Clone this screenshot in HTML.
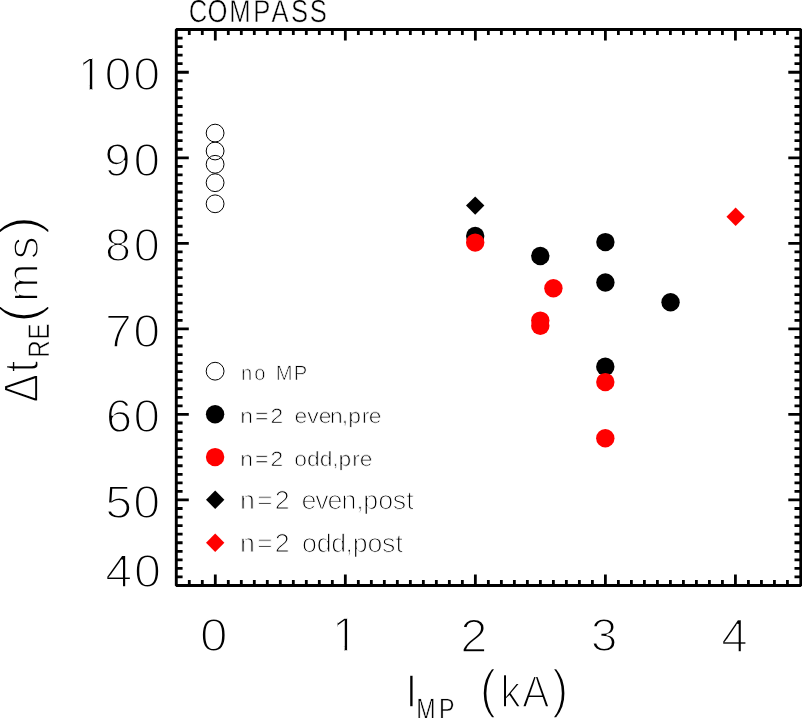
<!DOCTYPE html>
<html lang="en"><head><meta charset="utf-8"><title>COMPASS</title>
<style>
html,body{margin:0;padding:0;background:#fff;}
body{width:802px;height:718px;overflow:hidden;}
svg{display:block;}
text{font-family:"Liberation Sans",sans-serif;fill:#000;stroke:#fff;text-rendering:geometricPrecision;white-space:pre;}
.big{stroke-width:1.75px;}
.mid{stroke-width:0.55px;}
.sm{stroke-width:0.70px;}
.sm2{stroke-width:1.05px;}
</style></head><body>
<svg width="802" height="718" viewBox="0 0 802 718">
<rect x="0" y="0" width="802" height="718" fill="#fff"/>
<g id="axes">
<path d="M189.29 585.50v-5.60M189.29 29.50v5.60M202.30 585.50v-5.60M202.30 29.50v5.60M215.30 585.50v-11.10M215.30 29.50v11.10M228.30 585.50v-5.60M228.30 29.50v5.60M241.31 585.50v-5.60M241.31 29.50v5.60M254.31 585.50v-5.60M254.31 29.50v5.60M267.31 585.50v-5.60M267.31 29.50v5.60M280.31 585.50v-5.60M280.31 29.50v5.60M293.32 585.50v-5.60M293.32 29.50v5.60M306.32 585.50v-5.60M306.32 29.50v5.60M319.32 585.50v-5.60M319.32 29.50v5.60M332.33 585.50v-5.60M332.33 29.50v5.60M345.33 585.50v-11.10M345.33 29.50v11.10M358.33 585.50v-5.60M358.33 29.50v5.60M371.34 585.50v-5.60M371.34 29.50v5.60M384.34 585.50v-5.60M384.34 29.50v5.60M397.34 585.50v-5.60M397.34 29.50v5.60M410.35 585.50v-5.60M410.35 29.50v5.60M423.35 585.50v-5.60M423.35 29.50v5.60M436.35 585.50v-5.60M436.35 29.50v5.60M449.35 585.50v-5.60M449.35 29.50v5.60M462.36 585.50v-5.60M462.36 29.50v5.60M475.36 585.50v-11.10M475.36 29.50v11.10M488.36 585.50v-5.60M488.36 29.50v5.60M501.37 585.50v-5.60M501.37 29.50v5.60M514.37 585.50v-5.60M514.37 29.50v5.60M527.37 585.50v-5.60M527.37 29.50v5.60M540.38 585.50v-5.60M540.38 29.50v5.60M553.38 585.50v-5.60M553.38 29.50v5.60M566.38 585.50v-5.60M566.38 29.50v5.60M579.38 585.50v-5.60M579.38 29.50v5.60M592.39 585.50v-5.60M592.39 29.50v5.60M605.39 585.50v-11.10M605.39 29.50v11.10M618.39 585.50v-5.60M618.39 29.50v5.60M631.40 585.50v-5.60M631.40 29.50v5.60M644.40 585.50v-5.60M644.40 29.50v5.60M657.40 585.50v-5.60M657.40 29.50v5.60M670.40 585.50v-5.60M670.40 29.50v5.60M683.41 585.50v-5.60M683.41 29.50v5.60M696.41 585.50v-5.60M696.41 29.50v5.60M709.41 585.50v-5.60M709.41 29.50v5.60M722.42 585.50v-5.60M722.42 29.50v5.60M735.42 585.50v-11.10M735.42 29.50v11.10M748.42 585.50v-5.60M748.42 29.50v5.60M761.43 585.50v-5.60M761.43 29.50v5.60M774.43 585.50v-5.60M774.43 29.50v5.60M787.43 585.50v-5.60M787.43 29.50v5.60M176.29 576.95h6.30M800.80 576.95h-6.30M176.29 568.39h6.30M800.80 568.39h-6.30M176.29 559.84h6.30M800.80 559.84h-6.30M176.29 551.28h6.30M800.80 551.28h-6.30M176.29 542.73h6.30M800.80 542.73h-6.30M176.29 534.18h6.30M800.80 534.18h-6.30M176.29 525.62h6.30M800.80 525.62h-6.30M176.29 517.07h6.30M800.80 517.07h-6.30M176.29 508.52h6.30M800.80 508.52h-6.30M176.29 499.96h12.50M800.80 499.96h-12.50M176.29 491.41h6.30M800.80 491.41h-6.30M176.29 482.85h6.30M800.80 482.85h-6.30M176.29 474.30h6.30M800.80 474.30h-6.30M176.29 465.75h6.30M800.80 465.75h-6.30M176.29 457.19h6.30M800.80 457.19h-6.30M176.29 448.64h6.30M800.80 448.64h-6.30M176.29 440.08h6.30M800.80 440.08h-6.30M176.29 431.53h6.30M800.80 431.53h-6.30M176.29 422.98h6.30M800.80 422.98h-6.30M176.29 414.42h12.50M800.80 414.42h-12.50M176.29 405.87h6.30M800.80 405.87h-6.30M176.29 397.32h6.30M800.80 397.32h-6.30M176.29 388.76h6.30M800.80 388.76h-6.30M176.29 380.21h6.30M800.80 380.21h-6.30M176.29 371.65h6.30M800.80 371.65h-6.30M176.29 363.10h6.30M800.80 363.10h-6.30M176.29 354.55h6.30M800.80 354.55h-6.30M176.29 345.99h6.30M800.80 345.99h-6.30M176.29 337.44h6.30M800.80 337.44h-6.30M176.29 328.88h12.50M800.80 328.88h-12.50M176.29 320.33h6.30M800.80 320.33h-6.30M176.29 311.78h6.30M800.80 311.78h-6.30M176.29 303.22h6.30M800.80 303.22h-6.30M176.29 294.67h6.30M800.80 294.67h-6.30M176.29 286.12h6.30M800.80 286.12h-6.30M176.29 277.56h6.30M800.80 277.56h-6.30M176.29 269.01h6.30M800.80 269.01h-6.30M176.29 260.45h6.30M800.80 260.45h-6.30M176.29 251.90h6.30M800.80 251.90h-6.30M176.29 243.35h12.50M800.80 243.35h-12.50M176.29 234.79h6.30M800.80 234.79h-6.30M176.29 226.24h6.30M800.80 226.24h-6.30M176.29 217.68h6.30M800.80 217.68h-6.30M176.29 209.13h6.30M800.80 209.13h-6.30M176.29 200.58h6.30M800.80 200.58h-6.30M176.29 192.02h6.30M800.80 192.02h-6.30M176.29 183.47h6.30M800.80 183.47h-6.30M176.29 174.92h6.30M800.80 174.92h-6.30M176.29 166.36h6.30M800.80 166.36h-6.30M176.29 157.81h12.50M800.80 157.81h-12.50M176.29 149.25h6.30M800.80 149.25h-6.30M176.29 140.70h6.30M800.80 140.70h-6.30M176.29 132.15h6.30M800.80 132.15h-6.30M176.29 123.59h6.30M800.80 123.59h-6.30M176.29 115.04h6.30M800.80 115.04h-6.30M176.29 106.48h6.30M800.80 106.48h-6.30M176.29 97.93h6.30M800.80 97.93h-6.30M176.29 89.38h6.30M800.80 89.38h-6.30M176.29 80.82h6.30M800.80 80.82h-6.30M176.29 72.27h12.50M800.80 72.27h-12.50M176.29 63.72h6.30M800.80 63.72h-6.30M176.29 55.16h6.30M800.80 55.16h-6.30M176.29 46.61h6.30M800.80 46.61h-6.30M176.29 38.05h6.30M800.80 38.05h-6.30" stroke="#000" stroke-width="2.8" fill="none"/>
<rect x="176.29" y="29.50" width="624.51" height="556.00" fill="none" stroke="#000" stroke-width="2.9" stroke-linejoin="bevel"/>
</g>
<g id="data">
<circle cx="215.10" cy="133.10" r="8.9" fill="none" stroke="#000" stroke-width="1"/>
<circle cx="215.10" cy="151.00" r="8.9" fill="none" stroke="#000" stroke-width="1"/>
<circle cx="215.10" cy="164.30" r="8.9" fill="none" stroke="#000" stroke-width="1"/>
<circle cx="215.10" cy="182.70" r="8.9" fill="none" stroke="#000" stroke-width="1"/>
<circle cx="215.10" cy="203.80" r="8.9" fill="none" stroke="#000" stroke-width="1"/>
<circle cx="475.20" cy="236.00" r="9.2" fill="#000"/>
<circle cx="540.30" cy="256.00" r="9.2" fill="#000"/>
<circle cx="605.40" cy="242.10" r="9.2" fill="#000"/>
<circle cx="605.40" cy="282.50" r="9.2" fill="#000"/>
<circle cx="670.55" cy="302.20" r="9.2" fill="#000"/>
<circle cx="605.30" cy="366.80" r="9.2" fill="#000"/>
<path d="M475.20 196.40l9.2 9.2l-9.2 9.2l-9.2 -9.2z" fill="#000"/>
<circle cx="475.20" cy="242.60" r="9.2" fill="#ff0000"/>
<circle cx="553.40" cy="288.30" r="9.2" fill="#ff0000"/>
<circle cx="540.30" cy="320.60" r="9.2" fill="#ff0000"/>
<circle cx="540.30" cy="325.70" r="9.2" fill="#ff0000"/>
<circle cx="605.30" cy="382.10" r="9.2" fill="#ff0000"/>
<circle cx="605.30" cy="438.30" r="9.2" fill="#ff0000"/>
<path d="M735.65 207.55l9.2 9.2l-9.2 9.2l-9.2 -9.2z" fill="#ff0000"/>
</g>
<g id="legend">
<circle cx="215.10" cy="371.20" r="8.9" fill="none" stroke="#000" stroke-width="1"/>
<circle cx="215.10" cy="414.30" r="9.2" fill="#000"/>
<circle cx="215.10" cy="457.10" r="9.2" fill="#ff0000"/>
<path d="M215.20 490.60l9.2 9.2l-9.2 9.2l-9.2 -9.2z" fill="#000"/>
<path d="M215.20 533.60l9.2 9.2l-9.2 9.2l-9.2 -9.2z" fill="#ff0000"/>
</g>
<clipPath id="k0"><path d="M79.95 -46.40H88.49V0H86.06V-4.64H79.95z M97.90 -46.40h400v69.60h-400z"/></clipPath>
<g transform="translate(0 90.30) scale(1.043 1)"><text class="big" clip-path="url(#k0)" x="73.56 100.22 127.88" font-size="46.4">100</text></g>
<text class="big" transform="translate(0 175.70) scale(1.028 1)" x="101.53 129.99" font-size="46.4">90</text>
<text class="big" transform="translate(0 261.35) scale(1.011 1)" x="103.76 132.33" font-size="46.4">80</text>
<text class="big" transform="translate(0 346.90) scale(1.041 1)" x="100.78 128.10" font-size="46.4">70</text>
<text class="big" transform="translate(0 432.40) scale(1.025 1)" x="103.20 130.31" font-size="46.4">60</text>
<text class="big" transform="translate(0 517.80) scale(1.042 1)" x="100.95 127.98" font-size="46.4">50</text>
<text class="big" transform="translate(0 586.90) scale(1.046 1)" x="100.56 128.01" font-size="46.4">40</text>
<text class="big" transform="translate(0 651.40) scale(1.067 1)" x="187.45" font-size="46.4">0</text>
<clipPath id="k8"><path d="M344.29 -48.20H354.18V0H351.71V-4.78H344.29z"/></clipPath>
<g transform="translate(0 651.30) scale(0.980 1)"><text class="big" clip-path="url(#k8)" x="338.70" font-size="48.2">1</text></g>
<text class="big" transform="translate(0 651.70) scale(1.042 1)" x="441.71" font-size="47.0">2</text>
<text class="big" transform="translate(0 651.40) scale(1.034 1)" x="571.42" font-size="46.4">3</text>
<text class="big" transform="translate(0 651.70) scale(1.004 1)" x="718.37" font-size="47.4">4</text>
<text class="mid" transform="translate(0 21.75) scale(0.807 1)" x="233.83 257.13 284.09 313.79 336.53 360.58 383.95" font-size="31.8">COMPASS</text>
<text class="big" transform="translate(0 707.40) scale(0.950 1)" x="426.71" font-size="46.6">I</text>
<text class="mid" transform="translate(0 718.95) scale(0.785 1)" x="530.13 559.08" font-size="29.6">MP</text>
<text class="big" transform="translate(0 707.40) scale(0.900 1)" x="533.47 556.10 580.33 613.52" font-size="45.0"><tspan font-size="53.2">(</tspan>kA<tspan font-size="53.2">)</tspan></text>
<text class="big" transform="rotate(-90) translate(0 38.30) scale(0.870 1)" x="-462.58 -428.30" font-size="49.2">Δt</text>
<text class="mid" transform="rotate(-90) translate(0 49.15) scale(0.808 1)" x="-442.69 -420.10" font-size="29.9">RE</text>
<text class="big" transform="rotate(-90) translate(0 38.45) scale(1.030 1)" x="-313.33 -293.15 -251.94 -227.59" font-size="45.1"><tspan font-size="54.0">(</tspan>ms<tspan font-size="54.0">)</tspan></text>
<text class="sm" transform="translate(0 380.45) scale(0.970 1)" x="248.38 262.10 273.66 284.42 302.84" font-size="20.8">no MP</text>
<text class="sm" transform="translate(0 423.35) scale(1.100 1)" x="218.33 231.82 245.97 257.54 267.77 279.30 289.77 300.01 310.67 316.71 328.76 335.18" font-size="20.8">n=2 even,pre</text>
<text class="sm" transform="translate(0 466.25) scale(1.100 1)" x="218.33 231.82 245.97 257.54 267.48 279.13 290.61 301.98 307.66 320.19 327.03" font-size="20.8">n=2 odd,pre</text>
<text class="sm2" transform="translate(0 509.30) scale(1.030 1)" x="233.08 249.51 266.67 281.13 292.83 306.02 317.99 331.47 345.85 352.72 367.18 381.31 394.31" font-size="26.0">n=2 even,post</text>
<text class="sm2" transform="translate(0 552.40) scale(1.030 1)" x="233.08 249.51 266.67 281.13 293.20 307.46 321.52 335.50 342.36 356.83 370.95 383.95" font-size="26.0">n=2 odd,post</text>
</svg></body></html>
